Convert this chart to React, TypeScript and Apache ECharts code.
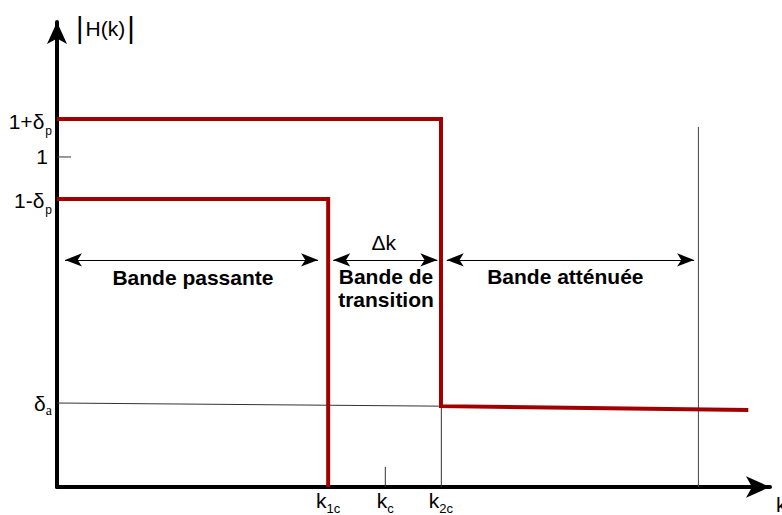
import React, { useEffect, useRef } from "react";
import * as echarts from "echarts";

// Abstract units
const X_MAX = 98.6;
const Y_MAX = 1.409;

// x-axis tick positions: k1c, kc, k2c
const xTickValues = [37.5, 45.4, 53.1];
const xTickLabels = ["{k|k}{s|1c}", "{k|k}{s|c}", "{k|k}{s|2c}"];

// y-axis label positions: 1+δp, 1, 1-δp, δa
const yTickValues = [1.115, 1, 0.873, 0.255];
const yTickLabels = ["{n|1+δ}{s|p}", "{one|1}", "{n|1-δ}{s|p}", "{d|δ}{sa|a}"];

// red tolerance bounds
const upperBound = [
  [0, 1.115],
  [53.1, 1.115],
  [53.1, 0.245],
  [95.6, 0.233],
];
const lowerBound = [
  [0, 0.873],
  [37.5, 0.873],
  [37.5, 0],
];

// thin reference lines
const deltaALine = [
  [0, 0.2545],
  [52.8, 0.245],
];
const k2cLine = [
  [53.15, 0.245],
  [53.15, 0],
];
const kcTick = [
  [45.4, 0.061],
  [45.4, 0],
];
const rightLine = [
  [88.7, 1.091],
  [88.7, 0],
];
const oneTick = [
  [0, 1],
  [1.94, 1],
];

// double arrows [x1, x2, y]
const bandArrows = [
  [1.1, 36.1, 0.688],
  [38.2, 52.6, 0.688],
  [53.9, 88.1, 0.688],
];

// annotations: [x, y, text, bold]
const annotations: [number, number, string, boolean][] = [
  [18.8, 0.636, "Bande passante", true],
  [45.5, 0.603, "Bande de\ntransition", true],
  [70.3, 0.639, "Bande atténuée", true],
  [45.2, 0.742, "Δk", false],
];

const FONT = "Liberation Sans";
const RED = "#a20000";

function thin(name: string, data: number[][], color = "#333") {
  return {
    name,
    type: "line",
    data,
    symbol: "none",
    silent: true,
    lineStyle: { color, width: 1 },
    z: 3,
  };
}

export default function App() {
  const ref = useRef<HTMLDivElement>(null);

  useEffect(() => {
    if (!ref.current) return;
    const chart = echarts.init(ref.current, null, { renderer: "svg" });

    const option: any = {
      animation: false,
      backgroundColor: "#ffffff",
      textStyle: { fontFamily: FONT },
      grid: {
        left: 57,
        right: 12,
        top: 22,
        bottom: 28,
        containLabel: false,
        outerBoundsMode: "none",
      },
      xAxis: {
        type: "value",
        min: 0,
        max: X_MAX,
        splitLine: { show: false },
        name: "k",
        nameLocation: "end",
        nameGap: 6,
        nameTextStyle: {
          fontFamily: FONT,
          fontSize: 21,
          color: "#000",
          align: "left",
          verticalAlign: "top",
          padding: [7, 0, 0, 0],
        },
        axisLine: {
          show: true,
          symbol: ["none", "arrow"],
          symbolSize: [16, 24],
          lineStyle: { color: "#000", width: 4 },
        },
        axisTick: { show: false },
        axisLabel: {
          show: true,
          customValues: xTickValues,
          margin: 4,
          color: "#000",
          formatter: (v: number) => {
            const i = xTickValues.findIndex((t) => Math.abs(t - v) < 1e-6);
            return i >= 0 ? xTickLabels[i] : "";
          },
          rich: {
            k: { fontFamily: FONT, fontSize: 21, color: "#000", verticalAlign: "bottom", lineHeight: 24, padding: [0, 0, 4, 0] },
            s: { fontFamily: FONT, fontSize: 13, color: "#000", verticalAlign: "bottom" },
          },
        },
      },
      yAxis: {
        type: "value",
        min: 0,
        max: Y_MAX,
        splitLine: { show: false },
        name: "{b||}{h|H(k)}{b||}",
        nameLocation: "end",
        nameGap: -6,
        nameTextStyle: {
          align: "left",
          verticalAlign: "middle",
          padding: [0, 0, 0, 19],
          rich: {
            b: { fontFamily: FONT, fontSize: 29, color: "#000", fontWeight: "lighter" },
            h: { fontFamily: FONT, fontSize: 21, color: "#000", padding: [0, 2, 0, 2] },
          },
        },
        axisLine: {
          show: true,
          symbol: ["none", "arrow"],
          symbolSize: [15, 22],
          lineStyle: { color: "#000", width: 4 },
        },
        axisTick: { show: false },
        axisLabel: {
          show: true,
          customValues: yTickValues,
          margin: 5,
          color: "#000",
          formatter: (v: number) => {
            const i = yTickValues.findIndex((t) => Math.abs(t - v) < 1e-6);
            return i >= 0 ? yTickLabels[i] : "";
          },
          rich: {
            n: { fontFamily: FONT, fontSize: 21, color: "#000", verticalAlign: "bottom", padding: [9, 0, 5, 0] },
            d: { fontFamily: FONT, fontSize: 21, color: "#000", verticalAlign: "bottom", padding: [5, 0, 4, 0] },
            one: { fontFamily: FONT, fontSize: 21, color: "#000", padding: [0, 4, 0, 0] },
            s: { fontFamily: FONT, fontSize: 12, color: "#000", verticalAlign: "bottom", padding: [0, 0, 0, 1] },
            sa: { fontFamily: "Liberation Serif", fontSize: 14, color: "#000", verticalAlign: "bottom" },
          },
        },
      },
      series: [
        thin("deltaA", deltaALine),
        thin("k2c", k2cLine),
        thin("kc", kcTick),
        thin("right", rightLine, "#444"),
        thin("one", oneTick),
        {
          name: "upper",
          type: "line",
          data: upperBound,
          symbol: "none",
          lineStyle: { color: RED, width: 4, join: "miter" },
          z: 4,
        },
        {
          name: "lower",
          type: "line",
          data: lowerBound,
          symbol: "none",
          lineStyle: { color: RED, width: 4, join: "miter" },
          z: 4,
        },
        {
          name: "arrows",
          type: "line",
          data: [],
          markLine: {
            silent: true,
            symbol: ["arrow", "arrow"],
            symbolSize: [10, 17],
            label: { show: false },
            lineStyle: { color: "#000", width: 1, type: "solid" },
            data: bandArrows.map(([x1, x2, y]) => [
              { coord: [x1, y] },
              { coord: [x2, y] },
            ]),
          },
        },
        {
          name: "text",
          type: "scatter",
          symbolSize: 0,
          silent: true,
          itemStyle: { color: "#000", opacity: 1 },
          data: annotations.map(([x, y, t, b]) => ({
            value: [x, y],
            label: {
              show: true,
              position: [0, 0],
              formatter: t,
              fontFamily: FONT,
              fontSize: 21,
              lineHeight: 23,
              fontWeight: b ? "bold" : "normal",
              color: "#000",
              opacity: 1,
              textBorderWidth: 0,
              align: "center",
              verticalAlign: "middle",
            },
          })),
        },
      ],
    };

    chart.setOption(option);
    return () => chart.dispose();
  }, []);

  return (
    <div
      ref={ref}
      style={{ position: "fixed", left: 0, top: 0, width: 782, height: 515 }}
    />
  );
}
